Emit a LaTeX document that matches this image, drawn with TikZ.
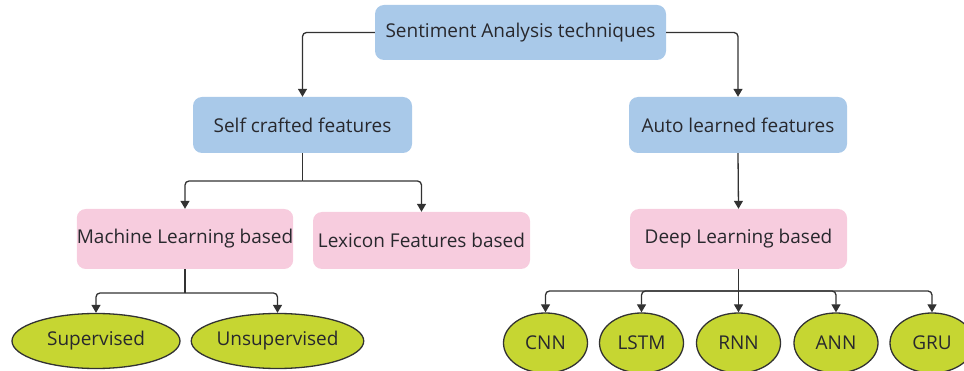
\documentclass[tikz,border=0pt]{standalone}
\usepackage{fontspec}
\setmainfont{Open Sans}
\usetikzlibrary{shapes.geometric,arrows.meta}
\definecolor{boxblue}{RGB}{169,201,233}
\definecolor{boxpink}{RGB}{247,204,222}
\definecolor{ellgreen}{RGB}{198,214,50}
\definecolor{txt}{RGB}{40,40,45}
\definecolor{linec}{RGB}{50,50,50}
\tikzset{
  bluebox/.style={fill=boxblue, rounded corners=9pt, align=center, inner sep=0pt, text=txt, font=\fontsize{19}{22}\selectfont},
  pinkbox/.style={fill=boxpink, rounded corners=9pt, align=center, inner sep=0pt, text=txt, font=\fontsize{19}{22}\selectfont},
  leaf/.style={ellipse, draw=linec, line width=1.3pt, fill=ellgreen, inner sep=0pt, text=txt, font=\fontsize{19}{22}\selectfont},
  conn/.style={draw=linec, line width=1.3pt, -{Triangle[length=8pt,width=9pt]}, rounded corners=4pt},
  plain/.style={draw=linec, line width=1.3pt}
}
\begin{document}
\begin{tikzpicture}[x=1pt,y=-1pt]
\useasboundingbox (0,0) rectangle (964,371);
\node[bluebox, minimum width=291pt, minimum height=55pt] (top) at (520.5,32.5) {Sentiment Analysis techniques};
\node[bluebox, minimum width=219pt, minimum height=56pt] (self) at (302.5,125) {Self crafted features};
\node[bluebox, minimum width=218pt, minimum height=56pt] (auto) at (738,125) {Auto learned features};
\node[pinkbox, minimum width=216pt, minimum height=60pt] (ml) at (185,239) {Machine Learning based};
\node[pinkbox, minimum width=217pt, minimum height=57pt] (lex) at (421.5,240.5) {Lexicon Features based};
\node[pinkbox, minimum width=217pt, minimum height=60pt] (deep) at (738.5,239) {Deep Learning based};
\node[leaf, minimum width=168pt, minimum height=55pt] (sup) at (96,341) {Supervised};
\node[leaf, minimum width=169pt, minimum height=55pt] (unsup) at (277.5,341) {Unsupervised};
\node[leaf, minimum width=84pt, minimum height=60pt] (cnn) at (545.5,343) {CNN};
\node[leaf, minimum width=84pt, minimum height=60pt] (lstm) at (641.5,343) {LSTM};
\node[leaf, minimum width=84pt, minimum height=60pt] (rnn) at (738.5,343) {RNN};
\node[leaf, minimum width=84pt, minimum height=60pt] (ann) at (836,343) {ANN};
\node[leaf, minimum width=84pt, minimum height=60pt] (gru) at (932,343) {GRU};
% top level
\draw[conn] (top.west) -| (self.north);
\draw[conn] (top.east) -| (auto.north);
% self crafted branches
\coordinate (sj) at (302.5,181);
\draw[plain] (self.south) -- (sj);
\draw[conn] (sj) -| (ml.north);
\draw[conn] (sj) -| (lex.north);
% auto learned
\draw[conn] (auto.south) -- (deep.north);
% ML branches
\coordinate (mj) at (185,293);
\draw[plain] (ml.south) -- (mj);
\draw[conn] (mj) -| (sup.north);
\draw[conn] (mj) -| (unsup.north);
% deep branches
\coordinate (dj) at (738.5,291);
\draw[plain] (deep.south) -- (dj);
\draw[conn] (dj) -| (cnn.north);
\draw[conn] (dj) -| (lstm.north);
\draw[conn] (dj) -- (rnn.north);
\draw[conn] (dj) -| (ann.north);
\draw[conn] (dj) -| (gru.north);
\end{tikzpicture}
\end{document}
